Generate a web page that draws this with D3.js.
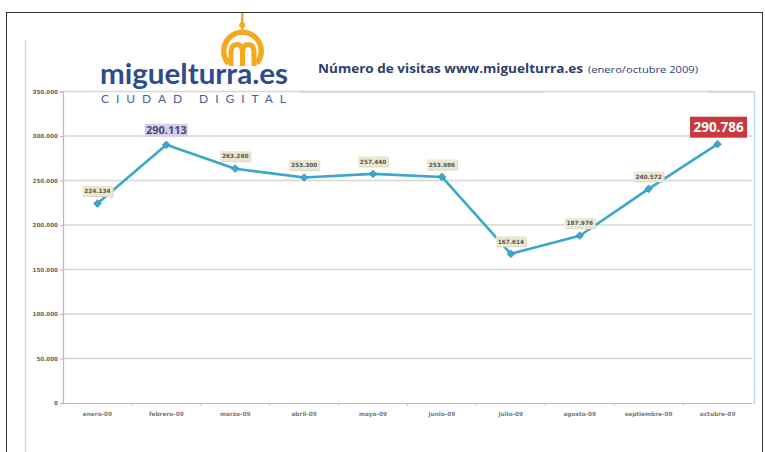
<!DOCTYPE html>
<html><head><meta charset="utf-8">
<script src="https://cdn.jsdelivr.net/npm/d3@7"></script>
<style>html,body{margin:0;padding:0;background:#fff;}svg{display:block;}</style>
</head><body>
<svg id="c" width="765" height="452"></svg>
<script>
const months = ["enero-09","febrero-09","marzo-09","abril-09","mayo-09","junio-09","julio-09","agosto-09","septiembre-09","octubre-09"];
const visits = [224134, 290113, 263280, 253300, 257440, 253986, 167614, 187976, 240572, 290786];
const yTicks = [0, 50000, 100000, 150000, 200000, 250000, 300000, 350000];
const highlightMax = "febrero-09";
const highlightLast = "octubre-09";

const loc = d3.formatLocale({decimal:",", thousands:".", grouping:[3], currency:["",""]});
const fmt = loc.format(",d");

const svg = d3.select("#c");
const m = {left:63, right:752, top:91.5, bottom:403};

// outer border
svg.append("rect").attr("x",6.5).attr("y",12.5).attr("width",756).attr("height",460)
  .attr("fill","none").attr("stroke","#333").attr("stroke-width",1);

// inner light-blue frame
const fc = "#c4d6ec";
svg.append("line").attr("x1",25.5).attr("x2",25.5).attr("y1",40).attr("y2",452).attr("stroke",fc).attr("stroke-width",1.5);
svg.append("line").attr("x1",754.5).attr("x2",754.5).attr("y1",92).attr("y2",404).attr("stroke",fc).attr("stroke-width",1.5);
svg.append("line").attr("x1",300).attr("x2",545).attr("y1",92).attr("y2",92).attr("stroke",fc).attr("stroke-width",1.5);
svg.append("line").attr("x1",708).attr("x2",755).attr("y1",92).attr("y2",92).attr("stroke",fc).attr("stroke-width",1.5);

const x = d3.scaleBand().domain(months).range([m.left, m.right]);
const y = d3.scaleLinear().domain([0, 350000]).range([m.bottom, m.top]);

// gridlines
svg.append("g").selectAll("line").data(yTicks.filter(d=>d>0)).join("line")
  .attr("x1",m.left).attr("x2",m.right).attr("y1",d=>y(d)).attr("y2",d=>y(d))
  .attr("stroke","#d6d6d6").attr("stroke-width",1.6);

// y axis
const yAx = svg.append("g").attr("transform",`translate(${m.left},0)`)
  .call(d3.axisLeft(y).tickValues(yTicks).tickFormat(fmt).tickSize(3).tickPadding(2));
yAx.select(".domain").attr("stroke","#b8b8b8").attr("stroke-width",1.2);
yAx.selectAll(".tick line").attr("stroke","#b8b8b8");
yAx.selectAll("text").attr("fill","#666").attr("font-family","DejaVu Sans, sans-serif")
  .attr("font-size",5.6).attr("font-weight","bold");

// x axis
const xAx = svg.append("g").attr("transform",`translate(0,${m.bottom})`)
  .call(d3.axisBottom(x).tickSize(0).tickPadding(9));
xAx.select(".domain").attr("stroke","#b8b8b8").attr("stroke-width",1.2);
xAx.selectAll("text").attr("fill","#7a7a7a").attr("font-family","DejaVu Sans, sans-serif")
  .attr("font-size",5.8).attr("font-weight","bold");
svg.append("g").selectAll("line").data(months.slice(1)).join("line")
  .attr("x1",d=>x(d)).attr("x2",d=>x(d)).attr("y1",m.bottom).attr("y2",m.bottom+3)
  .attr("stroke","#c8c8c8");

// line
const cx = d => x(d) + x.bandwidth()/2;
const pts = months.map((mm,i)=>({m:mm, v:visits[i]}));
svg.append("path").datum(pts)
  .attr("d", d3.line().x(d=>cx(d.m)).y(d=>y(d.v)))
  .attr("fill","none").attr("stroke","#3ba7ca").attr("stroke-width",2.6).attr("stroke-linejoin","round");
svg.append("g").selectAll("path").data(pts).join("path")
  .attr("transform",d=>`translate(${cx(d.m)},${y(d.v)}) rotate(45)`)
  .attr("d", d3.symbol().type(d3.symbolSquare).size(30))
  .attr("fill","#3ba7ca").attr("stroke","#2a8fb2").attr("stroke-width",0.6);

// labels
const lg = svg.append("g");
pts.forEach(d=>{
  const px = cx(d.m), py = y(d.v);
  if (d.m === highlightLast) {
    const w = 57, h = 21, cy = py - 17;
    lg.append("rect").attr("x",px-w/2+1).attr("y",cy-h/2).attr("width",w).attr("height",h).attr("fill","#c9383d");
    lg.append("text").attr("x",px+1).attr("y",cy+5).attr("text-anchor","middle")
      .attr("font-family","Open Sans, DejaVu Sans, sans-serif").attr("font-weight","bold").attr("font-size",13.5)
      .attr("fill","#fff").text(fmt(d.v));
  } else if (d.m === highlightMax) {
    const w = 43, h = 13, cy = py - 14.5;
    lg.append("rect").attr("x",px-w/2).attr("y",cy-h/2).attr("width",w).attr("height",h).attr("fill","#d6cfec");
    lg.append("text").attr("x",px).attr("y",cy+4).attr("text-anchor","middle")
      .attr("font-family","Open Sans, DejaVu Sans, sans-serif").attr("font-weight","bold").attr("font-size",11)
      .attr("fill","#4a4a78").text(fmt(d.v));
  } else {
    const w = 30, h = 10, cy = py - 12.5;
    lg.append("rect").attr("x",px-w/2+1).attr("y",cy-h/2+1).attr("width",w).attr("height",h).attr("fill","#dcd8c4");
    lg.append("rect").attr("x",px-w/2).attr("y",cy-h/2).attr("width",w).attr("height",h).attr("fill","#ece7d1");
    lg.append("text").attr("x",px).attr("y",cy+2.2).attr("text-anchor","middle")
      .attr("font-family","DejaVu Sans, sans-serif").attr("font-weight","bold").attr("font-size",5.8)
      .attr("fill","#555").text(fmt(d.v));
  }
});

// title
svg.append("text").attr("x",318).attr("y",73).attr("textLength",265).attr("lengthAdjust","spacingAndGlyphs")
  .attr("font-family","Open Sans, DejaVu Sans, sans-serif").attr("font-weight","bold").attr("font-size",13)
  .attr("fill","#2d3f6f").text("Número de visitas www.miguelturra.es");
svg.append("text").attr("x",588).attr("y",73).attr("textLength",110).attr("lengthAdjust","spacingAndGlyphs")
  .attr("font-family","Open Sans, DejaVu Sans, sans-serif").attr("font-size",8.5)
  .attr("fill","#2d3f6f").text("(enero/octubre 2009)");

// logo
const orange = "#f3aa1e";
const lgo = svg.append("g");
lgo.append("path").attr("d", d3.arc()({innerRadius:16, outerRadius:21.5, startAngle:-2.3, endAngle:2.3}))
  .attr("transform","translate(242.5,51)").attr("fill",orange);
lgo.append("rect").attr("x",241).attr("y",13).attr("width",2.5).attr("height",17).attr("fill",orange);
lgo.append("circle").attr("cx",242.2).attr("cy",25).attr("r",3).attr("fill",orange);
lgo.append("path")
  .attr("d","M231,66 V50 M231,53 Q231,44.5 237,44.5 Q242.5,44.5 242.5,53 V66 M242.5,53 Q242.5,44.5 248,44.5 Q254,44.5 254,53 V66")
  .attr("fill","none").attr("stroke",orange).attr("stroke-width",5);
lgo.append("text").attr("x",100).attr("y",84).attr("textLength",188).attr("lengthAdjust","spacingAndGlyphs")
  .attr("font-family","Lato, Open Sans, sans-serif").attr("font-weight","bold").attr("font-size",29)
  .attr("fill","#2f4b8c").text("miguelturra.es");
lgo.append("text").attr("x",101).attr("y",102.5).attr("textLength",185).attr("lengthAdjust","spacing")
  .attr("font-family","Lato, DejaVu Sans, sans-serif").attr("font-size",12)
  .attr("fill","#4a5f95").text("CIUDAD DIGITAL");
</script>
</body></html>
